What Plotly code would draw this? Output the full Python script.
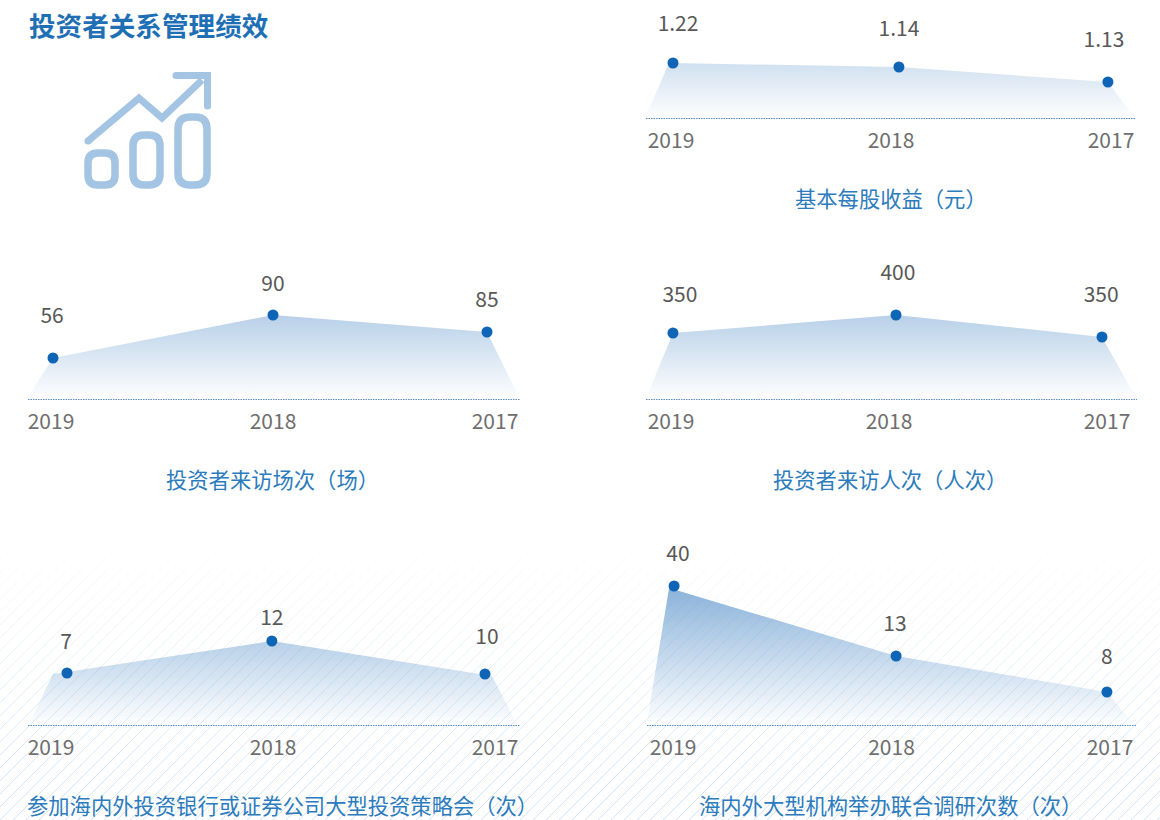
import plotly.graph_objects as go

FONT = "Noto Sans CJK SC"
BLUE = "#1f6fb5"
CAPTION = "#2b7bbd"

page_title = "投资者关系管理绩效"
years = ["2019", "2018", "2017"]

eps_caption = "基本每股收益（元）"
eps_values = ["1.22", "1.14", "1.13"]
eps_x = [0.009, 1.036, 1.986]
eps_level = [56, 52, 37]
eps_area_x = [-0.12, -0.009, 1.036, 1.986, 2.11]
eps_area_y = [0, 56, 52, 37, 0]
eps_label_x = [0.032, 1.036, 1.968]
eps_label_y = [93, 88, 77]

visits_caption = "投资者来访场次（场）"
visits_values = ["56", "90", "85"]
visits_x = [0.009, 1.0, 1.964]
visits_level = [42, 85, 68]
visits_area_x = [-0.112, 0.009, 1.0, 1.964, 2.114]
visits_area_y = [0, 42, 85, 68, 0]
visits_label_x = [0.005, 1.0, 1.964]
visits_label_y = [82, 114, 98]

people_caption = "投资者来访人次（人次）"
people_values = ["350", "400", "350"]
people_x = [0.009, 1.032, 1.977]
people_level = [67, 85, 63]
people_area_x = [-0.118, 0.009, 1.032, 1.977, 2.138]
people_area_y = [0, 67, 85, 63, 0]
people_label_x = [0.041, 1.041, 1.973]
people_label_y = [103, 125, 103]

meetings_caption = "参加海内外投资银行或证券公司大型投资策略会（次）"
meetings_values = ["7", "12", "10"]
meetings_x = [0.072, 0.995, 1.955]
meetings_level = [53, 85, 52]
meetings_area_x = [-0.103, 0.009, 0.995, 1.986, 2.105]
meetings_area_y = [0, 52, 85, 50, 0]
meetings_label_x = [0.068, 0.995, 1.964]
meetings_label_y = [82, 106, 87]

joint_caption = "海内外大型机构举办联合调研次数（次）"
joint_values = ["40", "13", "8"]
joint_x = [0.005, 1.021, 1.986]
joint_level = [140, 70, 34]
joint_area_x = [-0.122, -0.018, 1.021, 1.986, 2.115]
joint_area_y = [0, 138, 70, 34, 0]
joint_label_x = [0.023, 1.016, 1.986]
joint_label_y = [170, 100, 67]

# first tick px, tick spacing px, baseline left/right px, baseline y px, height px, caption x, caption y
panels = [
    (eps_caption, eps_values, eps_x, eps_level, eps_area_x, eps_area_y, eps_label_x, eps_label_y,
     671, 220, 646, 1135, 119, 119, 891, 197.5),
    (visits_caption, visits_values, visits_x, visits_level, visits_area_x, visits_area_y, visits_label_x, visits_label_y,
     51, 222, 28, 520, 400, 140, 272.5, 478),
    (people_caption, people_values, people_x, people_level, people_area_x, people_area_y, people_label_x, people_label_y,
     671, 218, 646, 1137, 400, 140, 890, 478),
    (meetings_caption, meetings_values, meetings_x, meetings_level, meetings_area_x, meetings_area_y, meetings_label_x, meetings_label_y,
     51, 222, 28, 520, 726, 180, 282.6, 804),
    (joint_caption, joint_values, joint_x, joint_level, joint_area_x, joint_area_y, joint_label_x, joint_label_y,
     673, 218.5, 647, 1137, 726, 180, 890.7, 804),
]

fig = go.Figure()
W, H = 1160, 820

# page coordinate axes for the decoration
layout = dict(
    width=W, height=H, margin=dict(l=0, r=0, t=0, b=0), autosize=False,
    paper_bgcolor="white", plot_bgcolor="rgba(0,0,0,0)", showlegend=False,
    font=dict(family=FONT),
    xaxis=dict(domain=[0, 1], range=[0, W], visible=False, fixedrange=True),
    yaxis=dict(domain=[0, 1], range=[H, 0], visible=False, fixedrange=True),
)

# white veil that fades the background hatch out toward the top
fig.add_trace(go.Scatter(
    x=[0, W, W, 0, 0], y=[520, 520, 800, 800, 520], mode="lines", line=dict(width=0),
    fill="toself", hoverinfo="skip",
    fillgradient=dict(type="vertical", start=530, stop=800,
                      colorscale=[[0, "rgba(255,255,255,1)"], [1, "rgba(255,255,255,0)"]]),
    xaxis="x", yaxis="y"))

annotations = [dict(text=f"<b>{page_title}</b>", x=27, y=24, xref="x", yref="y", xanchor="left", yanchor="middle",
                    showarrow=False, font=dict(family=FONT, size=26.6, color=BLUE))]

for i, (cap, vals, px, py, ax, ay, lx, ly, t0, unit, L, R, B, ht, cx, cy) in enumerate(panels):
    n = i + 2
    xa, ya = f"x{n}", f"y{n}"
    lo, hi = (L - t0) / unit, (R - t0) / unit
    layout[f"xaxis{n}"] = dict(
        domain=[L / W, R / W], range=[lo, hi], anchor=ya, fixedrange=True,
        tickmode="array", tickvals=[0, 1, 2], ticktext=years, showgrid=False, zeroline=False, showline=False,
        ticks="outside", ticklen=3, tickcolor="rgba(0,0,0,0)",
        tickfont=dict(family=FONT, size=21, color="#6e6e6e"))
    layout[f"yaxis{n}"] = dict(
        domain=[1 - B / H, 1 - (B - ht) / H], range=[0, ht], anchor=xa, visible=False, fixedrange=True)
    fig.add_trace(go.Scatter(
        x=ax, y=ay, mode="lines", line=dict(width=0), fill="toself", hoverinfo="skip",
        fillgradient=dict(type="vertical", start=140, stop=0,
                          colorscale=[[0, "rgba(20,100,180,0.50)"], [1, "rgba(20,100,180,0.0)"]]),
        xaxis=xa, yaxis=ya))
    fig.add_trace(go.Scatter(
        x=[lo, hi], y=[0, 0], mode="lines", line=dict(color="#1f69b3", width=1.3, dash="1.5px,1px"),
        cliponaxis=False, hoverinfo="skip", xaxis=xa, yaxis=ya))
    fig.add_trace(go.Scatter(
        x=px, y=py, mode="markers", marker=dict(color="#0f65b5", size=11),
        cliponaxis=False, xaxis=xa, yaxis=ya))
    fig.add_trace(go.Scatter(
        x=lx, y=ly, mode="text", text=vals, textposition="middle center",
        textfont=dict(family=FONT, size=21, color="#585858"),
        cliponaxis=False, hoverinfo="skip", xaxis=xa, yaxis=ya))
    annotations.append(dict(text=cap, x=cx, y=cy, xref="x", yref="y", xanchor="center", yanchor="middle",
                            showarrow=False, font=dict(family=FONT, size=21.3, color=CAPTION)))

# background hatch
hatch = []
for k in range(-25, 110):
    x0 = k * 13
    hatch.append(f"M{x0},820 L{x0 + 300},520")
shapes = [dict(type="path", path=" ".join(hatch), xref="x", yref="y", layer="below",
               line=dict(color="#d2e4f5", width=1))]

# rising-bars icon
ICON = "#a3c4e3"
def round_rect(x0, y0, x1, y1, r):
    return (f"M{x0 + r},{y0} L{x1 - r},{y0} Q{x1},{y0} {x1},{y0 + r} L{x1},{y1 - r} Q{x1},{y1} {x1 - r},{y1} "
            f"L{x0 + r},{y1} Q{x0},{y1} {x0},{y1 - r} L{x0},{y0 + r} Q{x0},{y0} {x0 + r},{y0} Z")
for rect in [(88, 153, 115, 185, 10), (133, 135, 160, 185, 11), (178, 117, 207, 185, 12)]:
    shapes.append(dict(type="path", path=round_rect(*rect), xref="x", yref="y", layer="above",
                       line=dict(color=ICON, width=7.5)))
shapes.append(dict(type="path", path="M88,141 L139,98 L162,118 L202,80", xref="x", yref="y", layer="above",
                   line=dict(color=ICON, width=7)))
shapes.append(dict(type="path", path="M176,75.5 L207.5,75.5 L207.5,106", xref="x", yref="y", layer="above",
                   line=dict(color=ICON, width=7)))
for cx, cy in [(88, 141), (176, 75.5), (207.5, 106)]:
    shapes.append(dict(type="circle", x0=cx - 3.5, x1=cx + 3.5, y0=cy - 3.5, y1=cy + 3.5, xref="x", yref="y",
                       layer="above", fillcolor=ICON, line=dict(width=0)))

fig.update_layout(**layout, annotations=annotations, shapes=shapes)
fig.write_html("out.html", config=dict(displayModeBar=False),
               post_script="document.body.style.margin='0';")
